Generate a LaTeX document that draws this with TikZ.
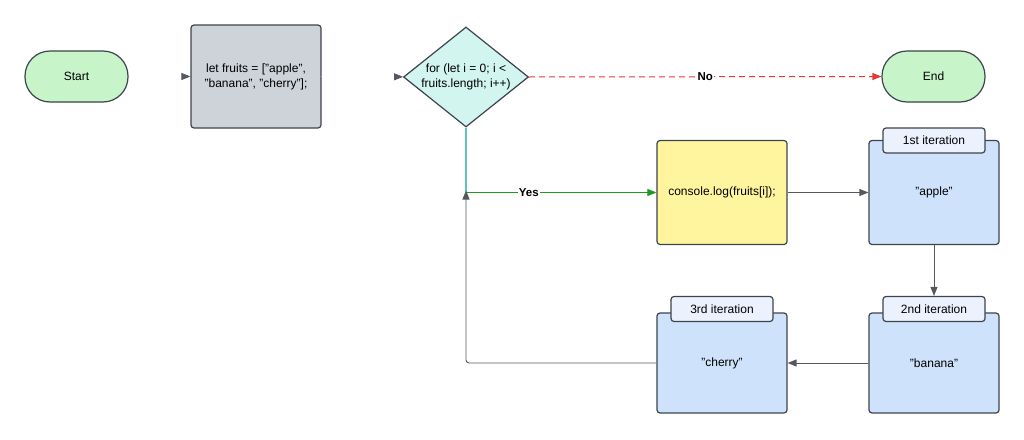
\documentclass[tikz,border=0pt]{standalone}
\usepackage{fontspec}
\setmainfont{Liberation Sans}
\usetikzlibrary{shapes.geometric,arrows.meta}
\definecolor{bord}{HTML}{3D444D}
\definecolor{startg}{HTML}{C7F5C9}
\definecolor{grayb}{HTML}{CED2D9}
\definecolor{cyanb}{HTML}{D2F5EF}
\definecolor{yell}{HTML}{FFF59F}
\definecolor{blueb}{HTML}{CFE2FB}
\definecolor{tabb}{HTML}{EBF2FD}
\definecolor{linec}{HTML}{55595F}
\definecolor{greenl}{HTML}{1E9A1E}
\definecolor{teall}{HTML}{5FC7B0}
\definecolor{redl}{HTML}{E53935}
\tikzset{
  shp/.style={draw=bord, line width=1.2pt, text=black, align=center, inner sep=2pt},
  term/.style={shp, fill=startg, rounded corners=25pt, minimum width=103pt, minimum height=51pt},
  proc/.style={shp, rounded corners=3pt, minimum width=130pt},
  tabnode/.style={shp, fill=tabb, rounded corners=3pt, minimum width=102pt, minimum height=25pt},
  tip/.style={-{Triangle[length=9pt,width=7pt]}},
  conn/.style={linec, line width=0.9pt, tip},
  lbl/.style={fill=white, font=\fontsize{11.5}{13}\selectfont\bfseries, text=black, inner sep=1pt}
}
\begin{document}
\begin{tikzpicture}[x=1pt,y=-1pt, font=\fontsize{12}{15}\selectfont]
\useasboundingbox (0,0) rectangle (1024,439);
\node[term] (start) at (76.5,76.5) {Start};
\node[proc, fill=grayb, minimum height=103pt] (let) at (256,76.5) {let fruits = ["apple",\\ "banana", "cherry"];};
\node[shp, diamond, fill=cyanb, minimum width=125pt, minimum height=100pt, inner sep=0pt] (dia) at (466,77) {};
\node[align=center, inner sep=0pt] (diatext) at (466,76.5) {for (let i = 0; i <\\ fruits.length; i++)};
\node[term] (end) at (933.5,76.5) {End};
\node[proc, fill=yell, minimum height=104pt] (cons) at (722,192.5) {console.log(fruits[i]);};
\node[proc, fill=blueb, minimum height=104pt] (apple) at (934,192.5) {"apple"};
\node[tabnode] (tab1) at (934,140.5) {1st iteration};
\node[proc, fill=blueb, minimum height=100pt] (banana) at (934,363) {"banana"};
\node[tabnode] (tab2) at (934,309) {2nd iteration};
\node[proc, fill=blueb, minimum height=100pt] (cherry) at (722,363) {"cherry"};
\node[tabnode] (tab3) at (722,309) {3rd iteration};
\coordinate (yc) at (466,192.5);
% connectors
\draw[white, line width=0.9pt, -{Triangle[length=9pt,width=7pt,color=linec]}] (start) -- (let);
\draw[white, line width=0.9pt, -{Triangle[length=9pt,width=7pt,color=linec]}] (let) -- (dia);
\draw[redl, line width=1pt, dash pattern=on 6pt off 4pt, tip] (dia.east) -- node[lbl]{No} (end.west);
\draw[teall, line width=1.1pt] (dia.south) -- (yc);
\draw[greenl, line width=1.1pt, tip] (yc) -- node[lbl, pos=0.33]{Yes} (cons.west);
\draw[conn] (cons.east) -- (apple.west);
\draw[conn] (apple.south) -- (tab2.north);
\draw[conn] (banana.west) -- (cherry.east);
\draw[conn, rounded corners=3pt] (cherry.west) -| ([yshift=2pt]yc);
\end{tikzpicture}
\end{document}
